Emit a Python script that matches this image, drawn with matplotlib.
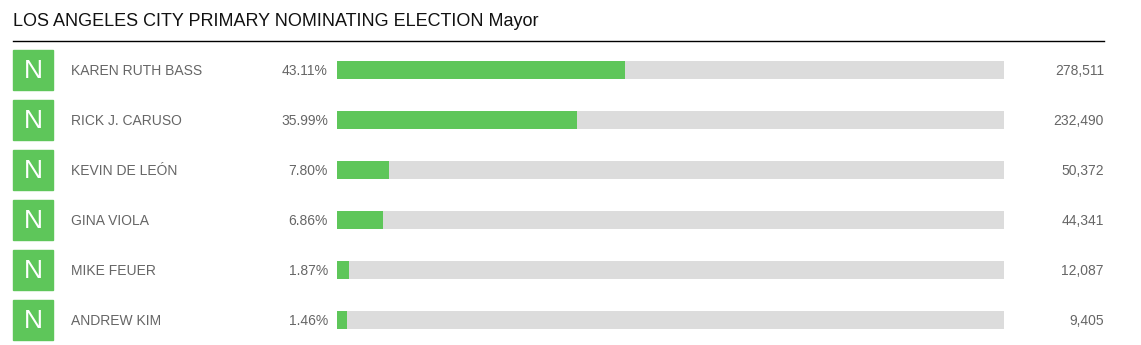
import matplotlib.pyplot as plt
from matplotlib.patches import Rectangle

plt.rcParams['font.family'] = ['Liberation Sans', 'DejaVu Sans']

title = "LOS ANGELES CITY PRIMARY NOMINATING ELECTION Mayor"
candidates = ["KAREN RUTH BASS", "RICK J. CARUSO", "KEVIN DE LEÓN",
              "GINA VIOLA", "MIKE FEUER", "ANDREW KIM"]
percents = [43.11, 35.99, 7.80, 6.86, 1.87, 1.46]
votes = [278511, 232490, 50372, 44341, 12087, 9405]
party = ["N", "N", "N", "N", "N", "N"]

W, H = 1141, 345
green = '#5ec65a'
grey = '#dcdcdc'
txt = '#666666'

fig = plt.figure(figsize=(W / 100, H / 100), dpi=100)
ax = fig.add_axes([0, 0, 1, 1])
ax.set_xlim(0, W)
ax.set_ylim(H, 0)
ax.axis('off')

# bar area (x in percent)
bx0, bx1 = 337, 1004
bax = fig.add_axes([bx0 / W, 0, (bx1 - bx0) / W, 1])
bax.set_xlim(0, 100)
bax.set_ylim(H, 0)
bax.axis('off')

ax.text(13, 21.5, title, fontsize=13, color='#111111', va='center', ha='left')
ax.plot([13, 1104], [41, 41], color='black', lw=1)

rows = [70 + 50 * i for i in range(len(candidates))]
bax.barh(rows, [100] * len(rows), height=18, color=grey)
bax.barh(rows, percents, height=18, color=green)

for y, name, p, v, pa in zip(rows, candidates, percents, votes, party):
    ax.add_patch(Rectangle((13, y - 20), 40, 40, color=green))
    ax.text(33, y + 1.5, pa, color='white', fontsize=19, ha='center', va='center')
    ax.text(71, y + 1, name, color=txt, fontsize=10, ha='left', va='center')
    ax.text(328, y + 1, f"{p:.2f}%", color=txt, fontsize=10, ha='right', va='center')
    ax.text(1104, y + 1, f"{v:,}", color=txt, fontsize=10, ha='right', va='center')

fig.savefig('out.png', dpi=100)
